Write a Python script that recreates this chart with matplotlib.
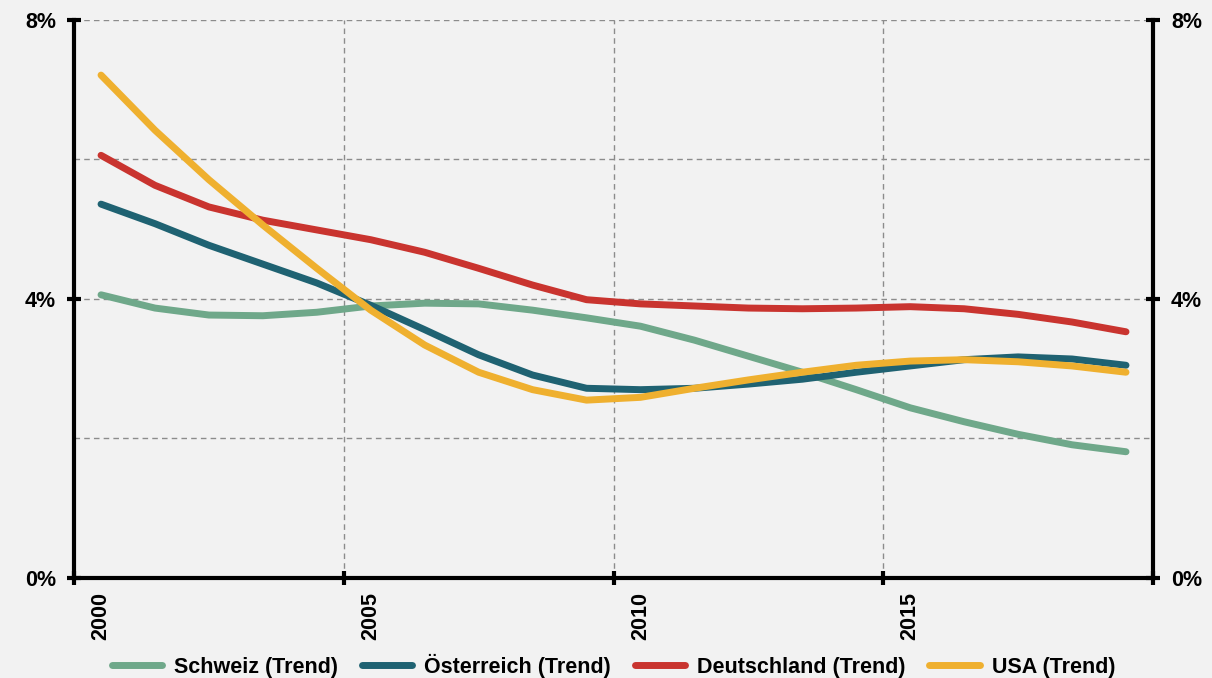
import numpy as np
import matplotlib
matplotlib.use('Agg')
import matplotlib.pyplot as plt

years = list(range(2000, 2020))
schweiz = [4.06, 3.87, 3.77, 3.76, 3.81, 3.90, 3.94, 3.93, 3.84, 3.73,
           3.61, 3.41, 3.18, 2.95, 2.70, 2.44, 2.24, 2.06, 1.91, 1.81]
oesterreich = [5.36, 5.08, 4.77, 4.50, 4.23, 3.91, 3.56, 3.20, 2.91, 2.72,
               2.70, 2.72, 2.78, 2.85, 2.95, 3.04, 3.13, 3.17, 3.14, 3.05]
deutschland = [6.06, 5.63, 5.32, 5.13, 4.99, 4.85, 4.67, 4.44, 4.20, 3.99,
               3.93, 3.90, 3.87, 3.86, 3.87, 3.89, 3.86, 3.78, 3.67, 3.53]
usa = [7.21, 6.42, 5.71, 5.06, 4.44, 3.84, 3.34, 2.95, 2.70, 2.55,
       2.59, 2.72, 2.84, 2.95, 3.05, 3.11, 3.13, 3.10, 3.04, 2.95]

labels = ["Schweiz (Trend)", "Österreich (Trend)", "Deutschland (Trend)", "USA (Trend)"]
colors = ["#6fa88a", "#1f6272", "#c9342f", "#efb02f"]

plt.rcParams['font.family'] = ['Liberation Sans', 'DejaVu Sans']
plt.rcParams['font.weight'] = 'bold'
plt.rcParams['font.size'] = 15.5

bg = "#f2f2f2"
fig = plt.figure(figsize=(12.12, 6.78), dpi=100, facecolor=bg)
ax = fig.add_axes([0.0611, 0.1475, 0.8902, 0.823])
ax.set_facecolor(bg)

x = np.arange(len(years))
for ys, lab, c in zip([schweiz, oesterreich, deutschland, usa], labels, colors):
    ax.plot(x, ys, color=c, lw=5, solid_capstyle='round', solid_joinstyle='round',
            label=lab, zorder=3)

# gridlines
for yv in [2, 4, 6, 8]:
    ax.axhline(yv, color='#8c8c8c', lw=1, ls=(0, (4, 3)), zorder=1)
for xv in [4.5, 9.5, 14.5]:
    ax.axvline(xv, color='#8c8c8c', lw=1, ls=(0, (4, 3)), zorder=1)

ax.set_xlim(-0.5, len(years) - 0.5)
ax.set_ylim(0, 8)

ax.set_xticks([-0.5, 4.5, 9.5, 14.5, 19.5])
ax.set_xticklabels([])
ax.set_xticks([0, 5, 10, 15], minor=True)
ax.set_xticklabels([str(years[i]) for i in [0, 5, 10, 15]], minor=True,
                   rotation=90, fontweight='bold')
ax.tick_params(axis='x', which='minor', length=0, pad=10)
ax.tick_params(axis='x', which='major', direction='inout', length=10, width=3)

ax.set_yticks([0, 4, 8])
ax.set_yticklabels(["0%", "4%", "8%"])
ax.tick_params(axis='y', direction='inout', length=10, width=3, pad=8,
               left=True, right=True, labelleft=True, labelright=True)

for s in ['left', 'right', 'bottom']:
    ax.spines[s].set_linewidth(3)
    ax.spines[s].set_color('black')
ax.spines['top'].set_visible(False)

ax.legend(loc='center', bbox_to_anchor=(0.5, -0.157), ncol=4, frameon=False,
          handlelength=2.35, handletextpad=0.55, columnspacing=1.1, borderaxespad=0,
          borderpad=0)

plt.savefig("out.png", dpi=100, facecolor=bg)
plt.close()
